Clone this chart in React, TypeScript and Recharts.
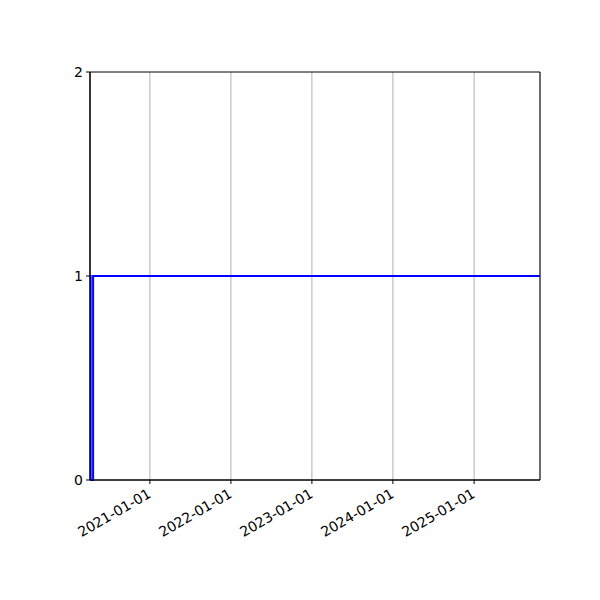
import { LineChart, Line, XAxis, YAxis, CartesianGrid, ReferenceArea } from "recharts";

// step series (dates as ISO strings)
const dates = ["2020-04-06", "2020-04-09", "2020-04-20", "2025-10-25"];
const values = [1, 0, 1, 1];

const xDomainDates = ["2020-04-06", "2025-10-25"];
const xTickDates = ["2021-01-01", "2022-01-01", "2023-01-01", "2024-01-01", "2025-01-01"];
const yTicks = [0, 1, 2];

const toTs = (s: string) => Date.parse(s + "T00:00:00Z");
const fmt = (ts: number) => new Date(ts).toISOString().slice(0, 10);

const data = dates.map((d, i) => ({ t: toTs(d), v: values[i] }));
const xDomain = xDomainDates.map(toTs);

const FONT = "'DejaVu Sans', sans-serif";

function XTick(props: any) {
  const { x, y, payload } = props;
  return (
    <g transform={`translate(${x - 3},${y + 2})`}>
      <text
        x={0}
        y={0}
        dy={10}
        textAnchor="end"
        transform="rotate(-30)"
        fontSize={14}
        fontFamily={FONT}
        fill="#000"
      >
        {fmt(payload.value)}
      </text>
    </g>
  );
}

export default function App() {
  return (
    <div style={{ position: "absolute", left: 0, top: 0, width: 600, height: 600, background: "#fff" }}>
      <LineChart
        width={600}
        height={600}
        data={data}
        margin={{ top: 72, right: 60, bottom: 60, left: 50 }}
      >
        <CartesianGrid horizontal={false} stroke="#b0b0b0" strokeWidth={1} />
        <XAxis
          dataKey="t"
          type="number"
          scale="time"
          domain={xDomain}
          ticks={xTickDates.map(toTs)}
          interval={0}
          tick={<XTick />}
          tickSize={4}
          height={60}
          stroke="#000"
          tickLine={{ stroke: "#000" }}
          axisLine={{ stroke: "#000" }}
          allowDataOverflow
        />
        <YAxis
          domain={[0, 2]}
          ticks={yTicks}
          interval={0}
          width={40}
          tickSize={4}
          tickMargin={3}
          tick={{ fontSize: 14, fontFamily: FONT, fill: "#000" }}
          tickLine={{ stroke: "#000" }}
          axisLine={{ stroke: "#000" }}
        />
        <Line
          type="stepAfter"
          dataKey="v"
          stroke="#0000ff"
          strokeWidth={2}
          dot={false}
          isAnimationActive={false}
        />
        <ReferenceArea
          x1={xDomain[0]}
          x2={xDomain[1]}
          y1={0}
          y2={2}
          fill="none"
          stroke="#000"
          strokeWidth={1}
          ifOverflow="visible"
        />
      </LineChart>
    </div>
  );
}
